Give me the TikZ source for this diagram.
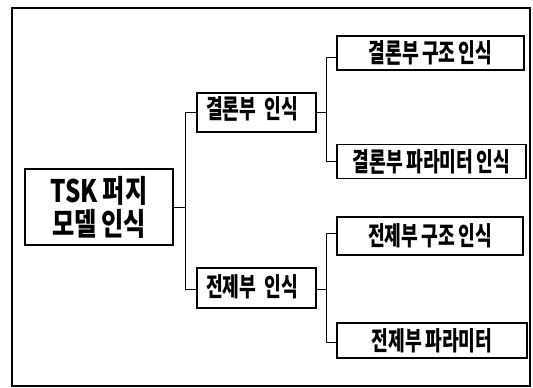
\documentclass[tikz,border=0pt]{standalone}
\usepackage{fontspec}
\newfontfamily\krfont[FakeStretch=0.7,WordSpace=0.8]{Noto Sans CJK KR}
\newfontfamily\krroot[FakeStretch=0.78,WordSpace=0.9]{Noto Sans CJK KR}
\begin{document}
\begin{tikzpicture}[x=1pt,y=-1pt,
  box/.style={draw, line width=1.6pt, inner sep=0pt,
    font=\krfont\bfseries\fontsize{26}{28}\selectfont},
  link/.style={line width=1pt}]
\useasboundingbox (0,0) rectangle (533,388);
\draw[line width=1.2pt] (12,8) rectangle (530,386);
% nodes
\node[box, minimum width=148pt, minimum height=76pt, align=center,
  font=\krroot\bfseries\fontsize{31}{33}\selectfont] (root) at (99,207) {TSK 퍼지\\모델 인식};
\node[box, minimum width=119pt, text width=101pt, align=left,
  text height=25pt, text depth=14pt] (k1) at (256.5,112.5) {결론부 인식};
\node[box, minimum width=119pt, text width=101pt, align=left,
  text height=28pt, text depth=12pt] (j1) at (256.5,288) {전제부 인식};
\node[box, minimum width=187pt, minimum height=34pt] (k2) at (430.5,53) {결론부 구조 인식};
\node[box, minimum width=189pt, minimum height=34pt] (k3) at (431.5,161.5) {결론부 파라미터 인식};
\node[box, minimum width=186pt, minimum height=38pt] (j2) at (430,236) {전제부 구조 인식};
\node[box, minimum width=190pt, minimum height=35pt] (j3) at (432,340.5) {전제부 파라미터};
% junctions
\coordinate (rj) at (185,207);
\coordinate (kj) at (326,112);
\coordinate (jj) at (326,289);
% connectors
\draw[link] (root.east) -- (rj);
\draw[link] (k1.west) -| (rj);
\draw[link] ([yshift=-1pt]j1.west) -| (rj);
\draw[link] (k1.east |- kj) -- (kj);
\draw[link] ([yshift=-4pt]k2.west) -| (kj);
\draw[link] (k3.west) -| (kj);
\draw[link] (j1.east |- jj) -- (jj);
\draw[link] ([yshift=3pt]j2.west) -| (jj);
\draw[link] ([yshift=-2pt]j3.west) -| (jj);
\end{tikzpicture}
\end{document}
